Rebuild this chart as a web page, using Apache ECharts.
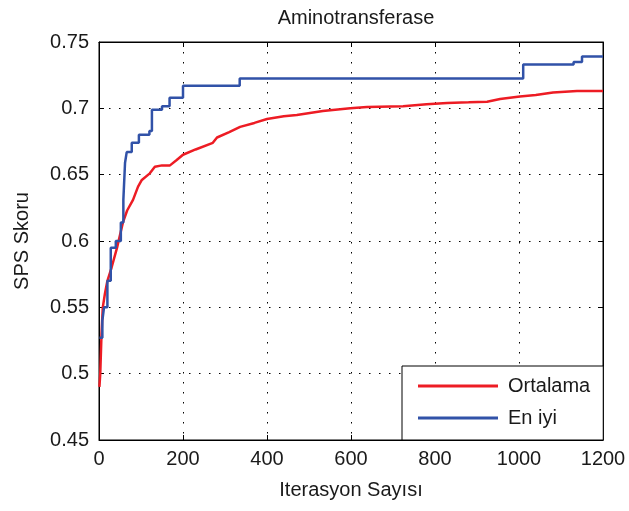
<!DOCTYPE html>
<html>
<head>
<meta charset="utf-8">
<script src="https://cdn.jsdelivr.net/npm/echarts@6/dist/echarts.min.js"></script>
<style>
  html, body { margin: 0; padding: 0; background: #fff; }
  #main { width: 629px; height: 511px; }
</style>
</head>
<body>
<div id="main"></div>
<script>
// Ortalama (average score) per iteration
var ortalamaX = [1, 3, 6, 9, 14, 20, 30, 43, 57, 67, 81, 93, 102, 121, 133, 150, 169, 185, 200, 230, 271, 281, 310, 336, 370, 400, 440, 471, 533, 598, 638, 724, 780, 829, 880, 924, 955, 1002, 1040, 1081, 1138, 1200];
var ortalamaY = [0.49, 0.50, 0.53, 0.55, 0.56, 0.57, 0.58, 0.595, 0.614, 0.623, 0.631, 0.641, 0.646, 0.651, 0.656, 0.657, 0.657, 0.661, 0.665, 0.669, 0.674, 0.678, 0.682, 0.686, 0.689, 0.692, 0.694, 0.695, 0.698, 0.700, 0.701, 0.7015, 0.703, 0.704, 0.7045, 0.705, 0.707, 0.709, 0.710, 0.712, 0.713, 0.713];

// En iyi (best score), step curve
var enIyiX = [1, 8, 12, 20, 28, 40, 52, 58, 62, 66, 78, 95, 120, 126, 150, 168, 200, 335, 1010, 1130, 1150, 1200];
var enIyiY = [0.527, 0.54, 0.55, 0.57, 0.595, 0.60, 0.614, 0.631, 0.659, 0.667, 0.674, 0.680, 0.683, 0.699, 0.7015, 0.708, 0.717, 0.7225, 0.733, 0.735, 0.739, 0.739];

var xTicks = [0, 200, 400, 600, 800, 1000, 1200];
var yTicks = [0.45, 0.5, 0.55, 0.6, 0.65, 0.7, 0.75];

function pairs(xs, ys) {
  return xs.map(function (x, i) { return [x, ys[i]]; });
}

var font = 'Liberation Sans, Arial, sans-serif';
var chart = echarts.init(document.getElementById('main'));

var gridLine = { show: true, lineStyle: { color: '#000', width: 1, type: [1.5, 8.5] } };
var tickIn = { show: true, inside: true, length: 5, lineStyle: { color: '#000' } };
var axisLine = { show: true, onZero: false, lineStyle: { color: '#000', width: 1 } };

var option = {
  animation: false,
  backgroundColor: '#fff',
  title: {
    text: 'Aminotransferase',
    left: 351, top: 3, textAlign: 'center',
    textStyle: { fontFamily: font, fontSize: 20, fontWeight: 'normal', color: '#1a1a1a' }
  },
  grid: { left: 99, top: 42, right: 26, bottom: 71, show: true, borderColor: '#000', borderWidth: 1 },
  legend: {
    left: 402, top: 366,
    orient: 'vertical',
    data: ['Ortalama', 'En iyi'],
    icon: 'rect',
    itemWidth: 80, itemHeight: 3, itemGap: 12,
    padding: [10, 13, 12, 16],
    backgroundColor: '#fff', borderColor: '#000', borderWidth: 1,
    textStyle: { fontFamily: font, fontSize: 20, color: '#1a1a1a', padding: [0, 0, 0, 5] }
  },
  xAxis: [{
    type: 'value', min: xTicks[0], max: xTicks[xTicks.length - 1], interval: 200,
    name: 'Iterasyon Sayısı', nameLocation: 'middle', nameGap: 40,
    nameTextStyle: { fontFamily: font, fontSize: 20, color: '#1a1a1a' },
    axisLine: axisLine, axisTick: tickIn, splitLine: gridLine,
    axisLabel: {
      fontFamily: font, fontSize: 20, color: '#1a1a1a', margin: 9,
      formatter: function (v) { return String(v); }
    }
  }, {
    type: 'value', position: 'top', min: 0, max: 1200, interval: 200,
    axisLine: axisLine, axisTick: tickIn, splitLine: { show: false }, axisLabel: { show: false }
  }],
  yAxis: [{
    type: 'value', min: yTicks[0], max: yTicks[yTicks.length - 1], interval: 0.05,
    name: 'SPS Skoru', nameLocation: 'middle', nameGap: 67,
    nameTextStyle: { fontFamily: font, fontSize: 20, color: '#1a1a1a' },
    axisLine: axisLine, axisTick: tickIn, splitLine: gridLine,
    axisLabel: {
      fontFamily: font, fontSize: 20, color: '#1a1a1a', margin: 10,
      formatter: function (v) { return String(+v.toFixed(2)); }
    }
  }, {
    type: 'value', position: 'right', min: 0.45, max: 0.75, interval: 0.05,
    axisLine: axisLine, axisTick: tickIn, splitLine: { show: false }, axisLabel: { show: false }
  }],
  series: [{
    name: 'Ortalama', type: 'line', symbol: 'none',
    data: pairs(ortalamaX, ortalamaY),
    itemStyle: { color: '#ed1c24' },
    lineStyle: { color: '#ed1c24', width: 2.5 }
  }, {
    name: 'En iyi', type: 'line', symbol: 'none', step: 'end',
    data: pairs(enIyiX, enIyiY),
    itemStyle: { color: '#3152a8' },
    lineStyle: { color: '#3152a8', width: 2.5 }
  }]
};

chart.setOption(option);
</script>
</body>
</html>
